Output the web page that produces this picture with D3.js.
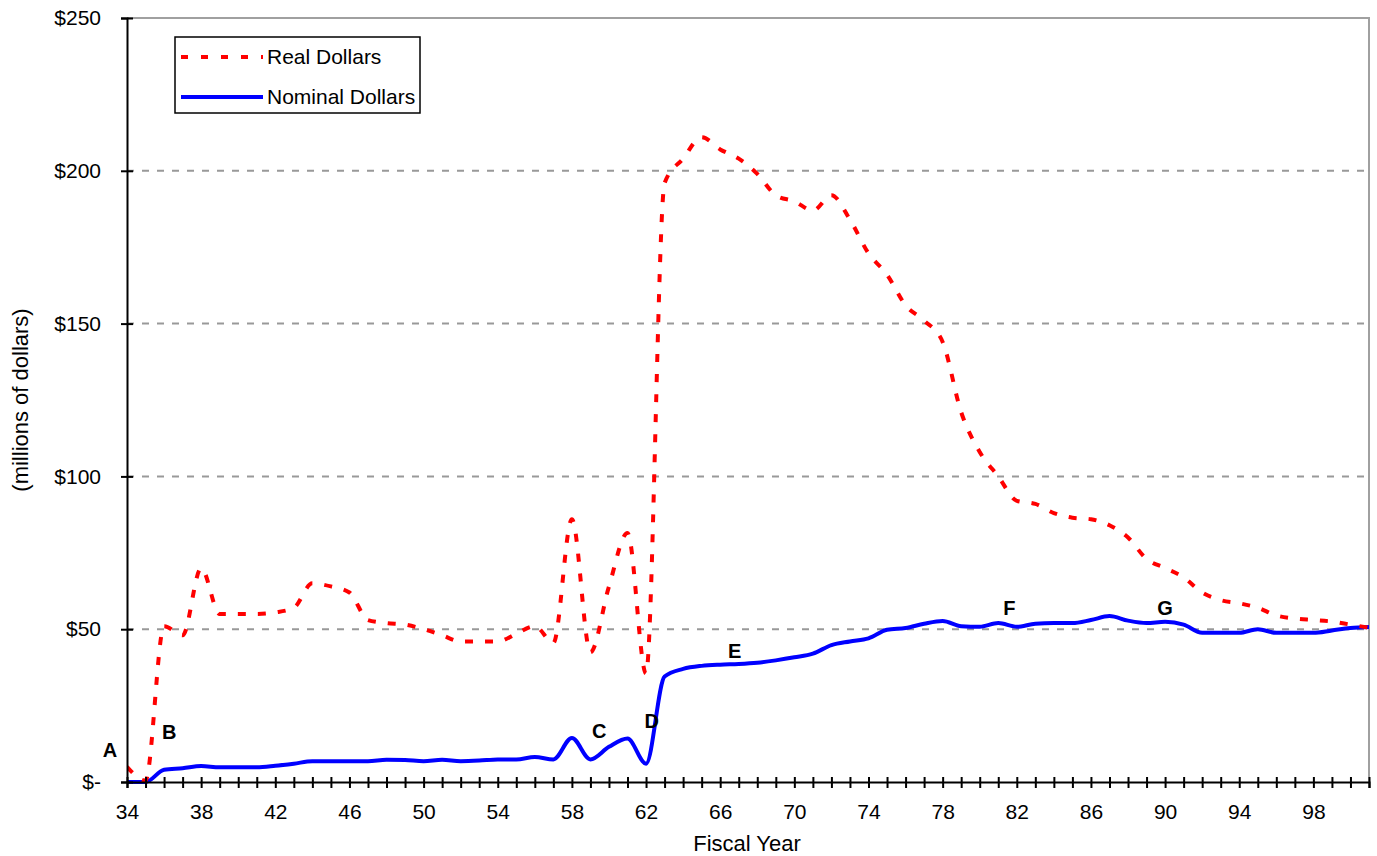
<!DOCTYPE html>
<html>
<head>
<meta charset="utf-8">
<script src="https://cdn.jsdelivr.net/npm/d3@7"></script>
<style>
  body { margin: 0; background: #fff; }
  svg text { font-family: "Liberation Sans", Arial, sans-serif; fill: #000; }
</style>
</head>
<body>
<div id="chart"></div>
<script>
// fiscal years (categories)
var years = [34, 35, 36, 37, 38, 39, 40, 41, 42, 43, 44, 45, 46, 47, 48, 49, 50,
  51, 52, 53, 54, 55, 56, 57, 58, 59, 60, 61, 62, 63, 64, 65, 66, 67, 68, 69, 70,
  71, 72, 73, 74, 75, 76, 77, 78, 79, 80, 81, 82, 83, 84, 85, 86, 87, 88, 89, 90,
  91, 92, 93, 94, 95, 96, 97, 98, 99, 100, 101];

// millions of dollars
var realDollars = [5, 0.5, 51, 48, 70, 55, 55, 55, 55.5, 57, 65, 64, 62, 53, 52, 51.5, 50,
  48, 46, 46, 46, 48.5, 51, 45.5, 86, 42.5, 64, 81.5, 35.5, 196, 204, 211, 207, 204, 199, 192, 190,
  187, 192, 184, 173, 166, 156, 151, 144, 121, 108, 100, 92, 91, 88, 86.5, 86, 84, 80, 73, 70,
  67, 62, 59.5, 58.5, 57, 54.5, 53.5, 53, 52.5, 51.5, 50.5];

var nominalDollars = [0, 0, 4, 4.5, 5.2, 4.8, 4.8, 4.8, 5.3, 6, 6.8, 6.8, 6.8, 6.8, 7.3, 7.2, 6.8,
  7.3, 6.8, 7, 7.4, 7.4, 8.2, 7.4, 14.4, 7.4, 11.5, 14.2, 6, 34.5, 37, 38, 38.4, 38.6, 39, 39.8, 40.8,
  42, 44.8, 46, 47, 49.8, 50.4, 51.8, 52.7, 51, 50.8, 52, 50.8, 51.8, 52, 52, 53, 54.3, 52.8, 52, 52.4,
  51.5, 48.8, 48.8, 48.8, 50, 48.8, 48.8, 48.8, 49.6, 50.4, 50.7];

var yTicks = [0, 50, 100, 150, 200, 250];
var xLabelYears = [34, 38, 42, 46, 50, 54, 58, 62, 66, 70, 74, 78, 82, 86, 90, 94, 98];

// event markers: letter, year, value at the letter's baseline
var noteText = ["A", "B", "C", "D", "E", "F", "G"];
var noteYear = [33.08, 36.28, 59.48, 62.3, 66.78, 81.6, 90.0];
var noteValue = [8.2, 14, 14.4, 17.7, 40.6, 54.6, 54.6];

var seriesNames = ["Real Dollars", "Nominal Dollars"];

var width = 1377, height = 856;
var plotLeft = 127, plotRight = 1369, plotTop = 18, plotBottom = 782;

var svg = d3.select("#chart").append("svg")
  .attr("width", width)
  .attr("height", height);

var x = d3.scaleLinear().domain([34, 101]).range([plotLeft, plotRight]);
var y = d3.scaleLinear().domain([0, 250]).range([plotBottom, plotTop]);

// plot area border (grey, top and right)
svg.append("path")
  .attr("d", "M" + plotLeft + "," + plotTop + "H" + plotRight + "V" + plotBottom)
  .style("fill", "none")
  .style("stroke", "#a0a0a0")
  .style("stroke-width", 2);

// dashed gridlines
svg.append("g")
  .selectAll("line")
  .data(yTicks.filter(function(d) { return d > 0 && d < 250; }))
  .enter().append("line")
  .attr("x1", plotLeft)
  .attr("x2", plotRight)
  .attr("y1", function(d) { return y(d); })
  .attr("y2", function(d) { return y(d); })
  .style("stroke", "#999")
  .style("stroke-width", 2)
  .style("stroke-dasharray", "7,8");

// clip lines to the plot
svg.append("clipPath").attr("id", "plot")
  .append("rect")
  .attr("x", plotLeft).attr("y", plotTop)
  .attr("width", plotRight - plotLeft).attr("height", plotBottom - plotTop + 2);

var line = function(values) {
  return d3.line()
    .x(function(d, i) { return x(years[i]); })
    .y(function(d) { return y(d); })
    .curve(d3.curveMonotoneX)(values);
};

svg.append("path")
  .attr("clip-path", "url(#plot)")
  .attr("d", line(nominalDollars))
  .style("fill", "none")
  .style("stroke", "#0000ff")
  .style("stroke-width", 4);

svg.append("path")
  .attr("clip-path", "url(#plot)")
  .attr("d", line(realDollars))
  .style("fill", "none")
  .style("stroke", "#ff0000")
  .style("stroke-width", 4)
  .style("stroke-dasharray", "8,12");

// x axis
var xAxis = svg.append("g")
  .attr("transform", "translate(0," + plotBottom + ")")
  .call(d3.axisBottom(x)
    .tickValues(years)
    .tickSize(6)
    .tickPadding(16)
    .tickFormat(function(d) { return xLabelYears.indexOf(d) >= 0 ? d : ""; }));
xAxis.select(".domain").style("stroke", "#000").style("stroke-width", 2);
xAxis.selectAll(".tick line").attr("y1", -5).style("stroke", "#000").style("stroke-width", 2);
xAxis.selectAll("text").style("font-size", "21px").style("fill", "#000");

// y axis
var yAxis = svg.append("g")
  .attr("transform", "translate(" + plotLeft + ",0)")
  .call(d3.axisLeft(y)
    .tickValues(yTicks)
    .tickSize(6)
    .tickPadding(20)
    .tickFormat(function(d) { return d === 0 ? "$-" : "$" + d; }));
yAxis.select(".domain").style("stroke", "#000").style("stroke-width", 2);
yAxis.selectAll(".tick line").attr("x1", -6).attr("x2", 6).style("stroke", "#000").style("stroke-width", 2);
yAxis.selectAll("text").style("font-size", "21px").style("fill", "#000");

// axis titles
svg.append("text")
  .attr("x", 747)
  .attr("y", 851)
  .attr("text-anchor", "middle")
  .style("font-size", "22px")
  .text("Fiscal Year");

svg.append("text")
  .attr("transform", "translate(28," + ((plotTop + plotBottom) / 2) + ") rotate(-90)")
  .attr("text-anchor", "middle")
  .style("font-size", "22px")
  .text("(millions of dollars)");

// event letters
svg.append("g")
  .selectAll("text")
  .data(noteText)
  .enter().append("text")
  .attr("x", function(d, i) { return x(noteYear[i]); })
  .attr("y", function(d, i) { return y(noteValue[i]); })
  .attr("text-anchor", "middle")
  .style("font-size", "20px")
  .style("font-weight", "bold")
  .text(function(d) { return d; });

// legend
var legend = svg.append("g").attr("transform", "translate(175,37)");
legend.append("rect")
  .attr("width", 245)
  .attr("height", 76)
  .style("fill", "#fff")
  .style("stroke", "#000")
  .style("stroke-width", 1.5);

var legendStyles = [
  { color: "#ff0000", dash: "7,13" },
  { color: "#0000ff", dash: null }
];
var item = legend.selectAll(".item")
  .data(seriesNames)
  .enter().append("g")
  .attr("class", "item")
  .attr("transform", function(d, i) { return "translate(0," + (20 + i * 40) + ")"; });

item.append("line")
  .attr("x1", 6)
  .attr("x2", 88)
  .style("stroke", function(d, i) { return legendStyles[i].color; })
  .style("stroke-width", 4)
  .style("stroke-dasharray", function(d, i) { return legendStyles[i].dash; });

item.append("text")
  .attr("x", 92)
  .attr("dy", "0.35em")
  .style("font-size", "21px")
  .text(function(d) { return d; });
</script>
</body>
</html>
